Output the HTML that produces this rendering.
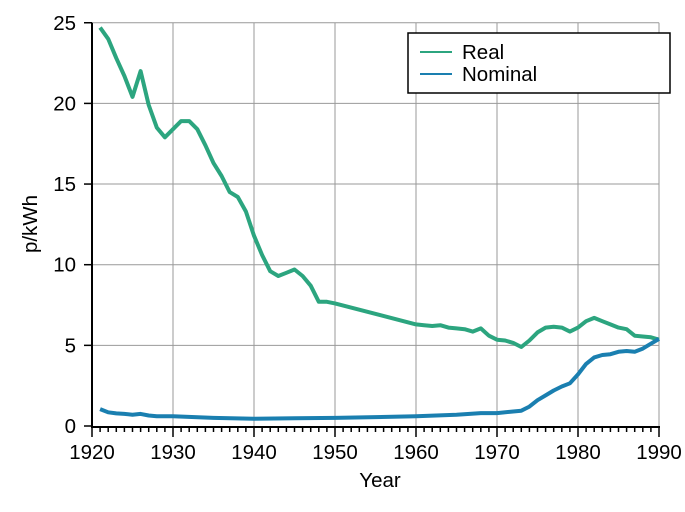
<!DOCTYPE html>
<html><head><meta charset="utf-8"><style>body{margin:0;background:#fff}svg{display:block}text{font-family:"Liberation Sans",sans-serif;fill:#000}</style></head>
<body>
<svg id="s" width="685" height="512" xmlns="http://www.w3.org/2000/svg"></svg>
<script>
const X=y=>92+8.1*(y-1920), Y=v=>426-16.13*v;
let h='';
for(let v=5;v<=25;v+=5)h+=`<line x1="92" x2="659" y1="${Y(v)}" y2="${Y(v)}" stroke="#999" stroke-width="1"/>`;
for(let y=1930;y<=1990;y+=10)h+=`<line x1="${X(y)}" x2="${X(y)}" y1="${Y(25)}" y2="427" stroke="#999" stroke-width="1"/>`;
for(let v=0;v<=25;v+=5){h+=`<line x1="84" x2="92" y1="${Y(v)}" y2="${Y(v)}" stroke="#000" stroke-width="1.5"/><text x="76" y="${Y(v)+7}" font-size="20.5" text-anchor="end">${v}</text>`;}
for(let y=1920;y<=1990;y++){const big=y%10==0;h+=`<line x1="${X(y)}" x2="${X(y)}" y1="427" y2="${big?437:432}" stroke="#000" stroke-width="1.5"/>`;if(big)h+=`<text x="${X(y)}" y="459" font-size="20.5" text-anchor="middle">${y}</text>`;}
h+=`<line x1="92" x2="92" y1="${Y(25)}" y2="428" stroke="#000" stroke-width="2"/><line x1="91" x2="660" y1="427" y2="427" stroke="#000" stroke-width="2"/>`;
h+=`<text x="380" y="487" font-size="20.5" text-anchor="middle">Year</text><text transform="translate(37,224) rotate(-90)" font-size="20.5" text-anchor="middle">p/kWh</text>`;
const real={1921:24.7,1922:24.0,1923:22.8,1924:21.7,1925:20.4,1926:22.0,1927:19.9,1928:18.5,1929:17.9,1930:18.4,1931:18.9,1932:18.9,1933:18.4,1934:17.4,1935:16.3,1936:15.5,1937:14.5,1938:14.2,1939:13.3,1940:11.8,1941:10.6,1942:9.6,1943:9.3,1944:9.5,1945:9.7,1946:9.3,1947:8.7,1948:7.7,1949:7.7,1950:7.6,1960:6.3,1961:6.25,1962:6.2,1963:6.25,1964:6.1,1965:6.05,1966:6.0,1967:5.85,1968:6.05,1969:5.6,1970:5.35,1971:5.3,1972:5.15,1973:4.9,1974:5.3,1975:5.8,1976:6.1,1977:6.15,1978:6.1,1979:5.85,1980:6.1,1981:6.5,1982:6.7,1983:6.5,1984:6.3,1985:6.1,1986:6.0,1987:5.6,1988:5.55,1989:5.5,1990:5.35};
const nom={1921:1.05,1922:0.85,1923:0.78,1924:0.75,1925:0.7,1926:0.75,1927:0.65,1928:0.6,1930:0.6,1935:0.5,1940:0.45,1945:0.48,1950:0.5,1955:0.55,1960:0.6,1965:0.7,1968:0.8,1970:0.8,1972:0.9,1973:0.95,1974:1.2,1975:1.6,1976:1.9,1977:2.2,1978:2.45,1979:2.65,1980:3.2,1981:3.85,1982:4.25,1983:4.4,1984:4.45,1985:4.6,1986:4.65,1987:4.6,1988:4.8,1989:5.1,1990:5.4};
const pl=(d,c)=>`<polyline fill="none" stroke="${c}" stroke-width="4" stroke-linejoin="round" points="${Object.keys(d).map(k=>X(+k).toFixed(1)+','+Y(d[k]).toFixed(1)).join(' ')}"/>`;
h+=pl(real,'#2ca57f')+pl(nom,'#1a7fb0');
h+=`<rect x="408" y="33" width="262" height="60" fill="#fff" stroke="#000" stroke-width="1.5"/>`;
h+=`<line x1="420" x2="452" y1="52" y2="52" stroke="#2ca57f" stroke-width="2"/><text x="462" y="59" font-size="20.5">Real</text>`;
h+=`<line x1="420" x2="452" y1="74" y2="74" stroke="#1a7fb0" stroke-width="2"/><text x="462" y="81" font-size="20.5">Nominal</text>`;
document.getElementById('s').innerHTML=h;
</script>
</body></html>
